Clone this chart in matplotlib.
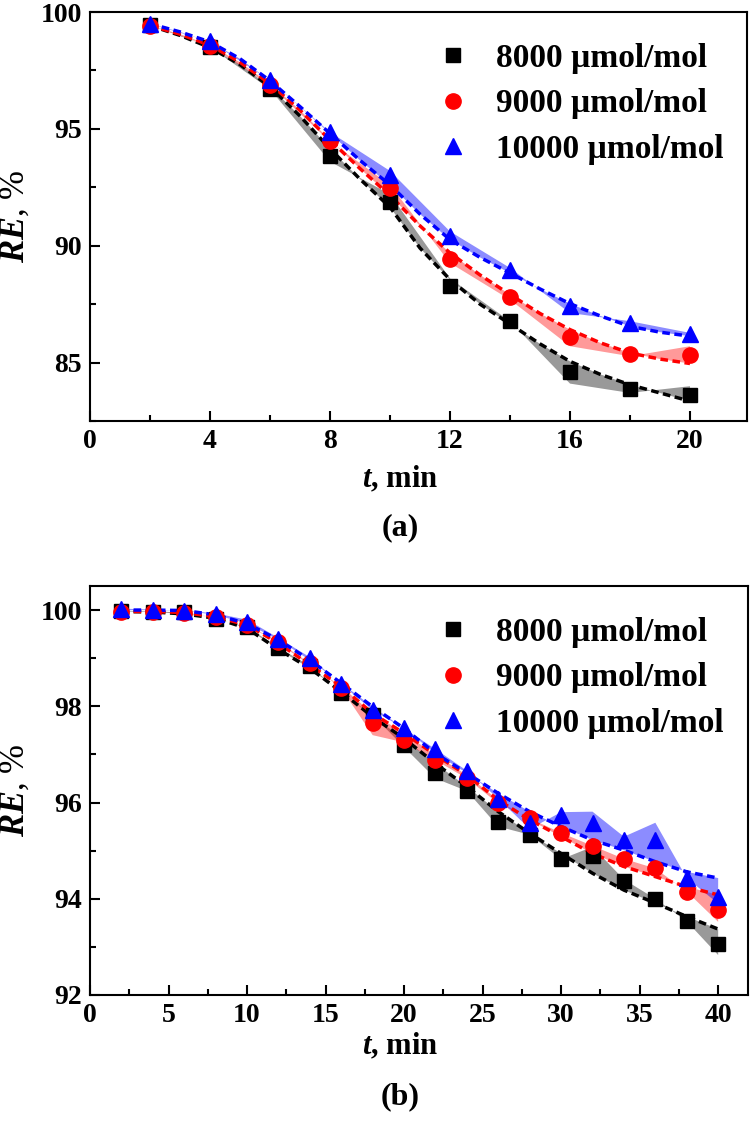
import numpy as np
import matplotlib
matplotlib.use("Agg")
import matplotlib.pyplot as plt
from matplotlib.lines import Line2D
from matplotlib.ticker import MultipleLocator

plt.rcParams['font.family'] = ['Liberation Serif', 'DejaVu Serif']
plt.rcParams['font.weight'] = 'bold'
plt.rcParams['mathtext.fontset'] = 'custom'
plt.rcParams['mathtext.it'] = 'Liberation Serif:italic:bold'
plt.rcParams['mathtext.rm'] = 'Liberation Serif:bold'
plt.rcParams['mathtext.bf'] = 'Liberation Serif:bold'

labels = ["8000 \u00b5mol/mol", "9000 \u00b5mol/mol", "10000 \u00b5mol/mol"]
colors = ["black", "red", "blue"]
markers = ["s", "o", "^"]

# ---------- panel (a) ----------
t_a = [2, 4, 6, 8, 10, 12, 14, 16, 18, 20]
re8000_a = [99.44, 98.50, 96.70, 93.85, 91.85, 88.26, 86.77, 84.60, 83.85, 83.63]
re9000_a = [99.42, 98.55, 96.86, 94.46, 92.46, 89.43, 87.81, 86.10, 85.35, 85.31]
re10000_a = [99.49, 98.74, 97.07, 94.86, 93.03, 90.40, 88.98, 87.41, 86.71, 86.21]

tfit_a = [2, 3, 4, 5, 6, 7, 8, 9, 10, 11, 12, 13, 14, 15, 16, 17, 18, 19, 20]
fit8000_a = [99.42, 99.00, 98.48, 97.75, 96.80, 95.55, 94.15, 92.85, 91.65, 89.90,
             88.55, 87.50, 86.65, 85.80, 85.05, 84.50, 84.05, 83.70, 83.35]
fit9000_a = [99.42, 99.05, 98.58, 97.85, 96.93, 95.80, 94.52, 93.30, 92.15, 90.85,
             89.69, 88.75, 87.91, 87.10, 86.41, 85.85, 85.41, 85.15, 84.96]
fit10000_a = [99.50, 99.15, 98.72, 98.00, 97.06, 95.95, 94.80, 93.65, 92.60, 91.35,
              90.26, 89.50, 88.83, 88.15, 87.52, 87.00, 86.55, 86.30, 86.13]

band8000_a = [99.44, 98.50, 96.70, 93.60, 92.20, 88.60, 86.77, 84.10, 83.70, 83.99]
band9000_a = [99.42, 98.55, 96.86, 94.46, 92.60, 89.26, 87.69, 85.70, 85.27, 85.70]
band10000_a = [99.49, 98.74, 97.07, 94.86, 93.20, 90.61, 89.05, 87.12, 86.77, 86.27]

# ---------- panel (b) ----------
t_b = [2, 4, 6, 8, 10, 12, 14, 16, 18, 20, 22, 24, 26, 28, 30, 32, 34, 36, 38, 40]
re8000_b = [99.99, 99.97, 99.95, 99.81, 99.65, 99.22, 98.84, 98.28, 97.82, 97.20,
            96.61, 96.24, 95.60, 95.33, 94.82, 94.88, 94.36, 93.99, 93.53, 93.07]
re9000_b = [99.97, 99.97, 99.94, 99.86, 99.69, 99.34, 98.89, 98.37, 97.65, 97.30,
            96.88, 96.50, 95.98, 95.67, 95.37, 95.10, 94.83, 94.63, 94.15, 93.77]
re10000_b = [100.03, 100.01, 99.99, 99.92, 99.76, 99.39, 99.00, 98.46, 97.92, 97.54,
             97.11, 96.66, 96.08, 95.57, 95.74, 95.57, 95.22, 95.22, 94.43, 94.04]

fit8000_b = [99.97, 99.96, 99.92, 99.83, 99.62, 99.18, 98.79, 98.30, 97.78, 97.33,
             96.81, 96.33, 95.81, 95.36, 94.94, 94.53, 94.18, 93.91, 93.63, 93.37]
fit9000_b = [99.97, 99.97, 99.95, 99.86, 99.69, 99.31, 98.86, 98.41, 97.85, 97.44,
             96.99, 96.57, 96.05, 95.64, 95.29, 94.94, 94.67, 94.46, 94.25, 94.08]
fit10000_b = [100.0, 100.0, 99.99, 99.90, 99.72, 99.38, 98.96, 98.48, 97.99, 97.54,
              97.02, 96.61, 96.19, 95.81, 95.50, 95.22, 95.01, 94.77, 94.56, 94.43]

band8000_b = [99.99, 99.97, 99.95, 99.81, 99.65, 99.22, 98.84, 98.28, 97.82, 97.15,
              96.50, 96.24, 95.50, 95.33, 94.82, 95.08, 94.40, 94.00, 93.53, 92.83]
band9000_b = [99.97, 99.97, 99.94, 99.86, 99.69, 99.34, 98.89, 98.37, 97.40, 97.25,
              96.88, 96.50, 95.98, 95.67, 95.37, 95.10, 94.83, 94.63, 94.15, 93.52]
band10000_b = [100.03, 100.01, 99.99, 99.93, 99.80, 99.42, 99.02, 98.46, 97.92, 97.54,
               97.11, 96.66, 96.08, 95.45, 95.80, 95.81, 95.29, 95.58, 94.43, 93.90]

W, H = 750, 1125
fig = plt.figure(figsize=(7.5, 11.25), dpi=100)


def px_axes(l, r, t, b):
    return fig.add_axes([l / W, 1 - b / H, (r - l) / W, (b - t) / H])


MSZ = [10, 11, 12]


def draw_panel(ax, t, series, tfit, fits, bands):
    fill_alpha = [0.4, 0.4, 0.45]
    for i in range(3):
        xs = np.concatenate([np.asarray(t, float), np.asarray(tfit, float)[::-1]])
        ys = np.concatenate([np.asarray(bands[i], float), np.asarray(fits[i], float)[::-1]])
        ax.fill(xs, ys, color=colors[i], alpha=fill_alpha[i], lw=0, zorder=1)
    for i in range(3):
        ax.plot(tfit, fits[i], color=colors[i], lw=2.5, ls=(0, (2.2, 1.3)), zorder=3)
    for i in range(3):
        ax.plot(t, series[i], color=colors[i], marker=markers[i], ms=MSZ[i], ls='none', zorder=4)
    for s in ['top', 'right', 'bottom', 'left']:
        ax.spines[s].set_linewidth(1.5)
    ax.tick_params(which='both', direction='in', top=False, right=False,
                   labelsize=20, width=1.5, pad=6)
    ax.tick_params(which='major', length=7)
    ax.tick_params(which='minor', length=4)
    handles = [Line2D([], [], color=colors[i], marker=markers[i], ms=MSZ[i], ls='none')
               for i in range(3)]
    return handles


def add_legend(ax, h, top_px):
    ax.legend(h, labels, loc='upper left', bbox_to_anchor=(436 / W, 1 - top_px / H),
              bbox_transform=fig.transFigure, frameon=False, fontsize=24,
              handletextpad=0.8, labelspacing=0.43, handlelength=1.0, borderaxespad=0,
              borderpad=0)


# panel (a)
axa = px_axes(90, 747, 12, 421)
h = draw_panel(axa, t_a, [re8000_a, re9000_a, re10000_a], tfit_a,
               [fit8000_a, fit9000_a, fit10000_a], [band8000_a, band9000_a, band10000_a])
axa.set_xlim(0, 21.9)
axa.set_ylim(82.5, 100)
axa.xaxis.set_major_locator(MultipleLocator(4))
axa.xaxis.set_minor_locator(MultipleLocator(2))
axa.yaxis.set_major_locator(MultipleLocator(5))
axa.yaxis.set_minor_locator(MultipleLocator(2.5))
axa.set_ylabel(r'$\mathit{RE}$, %', fontsize=25, labelpad=6)
add_legend(axa, h, 43)
fig.text(400 / W, 1 - 479 / H, r'$\mathit{t}$, min', fontsize=22, ha='center', va='center')
fig.text(400 / W, 1 - 528 / H, '(a)', fontsize=23, ha='center', va='center')

# panel (b)
axb = px_axes(90, 748, 586, 995)
h = draw_panel(axb, t_b, [re8000_b, re9000_b, re10000_b], t_b,
               [fit8000_b, fit9000_b, fit10000_b], [band8000_b, band9000_b, band10000_b])
axb.set_xlim(0, 41.9)
axb.set_ylim(92, 100.5)
axb.xaxis.set_major_locator(MultipleLocator(5))
axb.xaxis.set_minor_locator(MultipleLocator(2.5))
axb.yaxis.set_major_locator(MultipleLocator(2))
axb.yaxis.set_minor_locator(MultipleLocator(1))
axb.set_ylabel(r'$\mathit{RE}$, %', fontsize=25, labelpad=6)
add_legend(axb, h, 617)
fig.text(400 / W, 1 - 1046 / H, r'$\mathit{t}$, min', fontsize=22, ha='center', va='center')
fig.text(400 / W, 1 - 1097 / H, '(b)', fontsize=23, ha='center', va='center')

fig.savefig("out.png", dpi=100)
